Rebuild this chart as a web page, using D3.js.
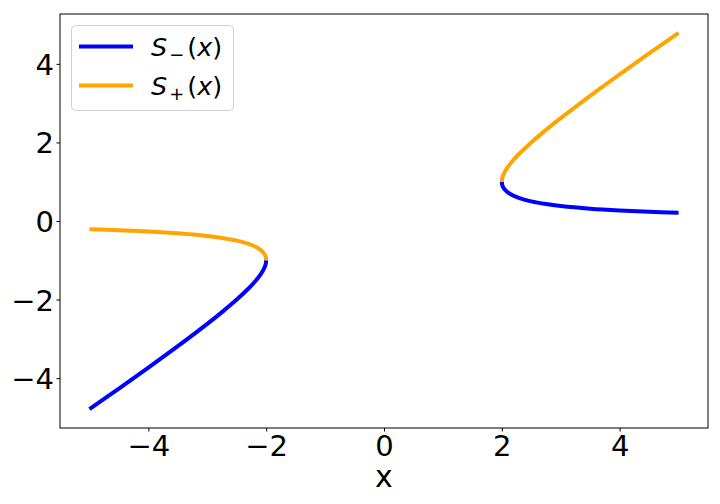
<!DOCTYPE html>
<html><head><meta charset="utf-8">
<script src="https://cdn.jsdelivr.net/npm/d3@7"></script>
<style>body{margin:0;background:#fff}text{font-family:"DejaVu Sans",sans-serif}</style>
</head><body><svg id="c" width="720" height="504"></svg>
<script>
// x samples (negative branch and positive branch), NaN marks the gap |x|<2
const xValues = [-5, -4.5, -4, -3.5, -3, -2.75, -2.5, -2.3, -2.2, -2.1, -2.05, -2.02, -2.01, -2.005, -2,
  NaN,
  2, 2.005, 2.01, 2.02, 2.05, 2.1, 2.2, 2.3, 2.5, 2.75, 3, 3.5, 4, 4.5, 5];
const sMinus = [-4.7913, -4.2656, -3.7321, -3.1861, -2.6180, -2.3187, -2.0, -1.7179, -1.5583, -1.3702, -1.25, -1.1518, -1.1051, -1.0708, -1,
  NaN,
  1, 0.9292, 0.9049, 0.8682, 0.8, 0.7298, 0.6417, 0.5821, 0.5, 0.4313, 0.3820, 0.3139, 0.2680, 0.2344, 0.2087];
const sPlus = [-0.2087, -0.2344, -0.2680, -0.3139, -0.3820, -0.4313, -0.5, -0.5821, -0.6417, -0.7298, -0.8, -0.8682, -0.9049, -0.9292, -1,
  NaN,
  1, 1.0708, 1.1051, 1.1518, 1.25, 1.3702, 1.5583, 1.7179, 2.0, 2.3187, 2.6180, 3.1861, 3.7321, 4.2656, 4.7913];
const xTicks = [-4, -2, 0, 2, 4];
const yTicks = [-4, -2, 0, 2, 4];
const seriesNames = ["S−", "S+"];
const seriesColors = ["#0000ff", "#ffa500"];

const svg = d3.select("#c");
const L = 60, R = 708, T = 14, B = 428;
const FS = 29;
const x = d3.scaleLinear().domain([-5.5, 5.5]).range([L, R]);
const y = d3.scaleLinear().domain([-5.2696, 5.2696]).range([B, T]);

svg.append("clipPath").attr("id","cp").append("rect")
  .attr("x",L).attr("y",T).attr("width",R-L).attr("height",B-T);

const series = [sMinus, sPlus];
const line = d3.line()
  .defined(d => !isNaN(d[0]) && !isNaN(d[1]))
  .x(d => x(d[0])).y(d => y(d[1]))
  .curve(d3.curveCatmullRom.alpha(0.5));
series.forEach((s, i) => {
  svg.append("path")
    .attr("d", line(xValues.map((v, j) => [v, s[j]])))
    .attr("fill","none").attr("stroke", seriesColors[i])
    .attr("stroke-width", 4).attr("stroke-linecap","butt")
    .attr("clip-path","url(#cp)");
});

const fmt = d => d < 0 ? "\u2212" + Math.abs(d) : d;
const xa = svg.append("g").attr("transform",`translate(0,${B})`)
  .call(d3.axisBottom(x).tickValues(xTicks).tickSize(3.5).tickPadding(3.5).tickFormat(fmt));
const ya = svg.append("g").attr("transform",`translate(${L},0)`)
  .call(d3.axisLeft(y).tickValues(yTicks).tickSize(3.5).tickPadding(2.5).tickFormat(fmt));
[xa, ya].forEach(g => {
  g.select(".domain").remove();
  g.selectAll("line").attr("stroke","#000").attr("stroke-width",1);
  g.selectAll("text").attr("font-size",FS).attr("fill","#000").attr("font-family","DejaVu Sans");
});
ya.selectAll("text").attr("dy","0.36em");
svg.append("rect").attr("x",L).attr("y",T).attr("width",R-L).attr("height",B-T)
  .attr("fill","none").attr("stroke","#000").attr("stroke-width",1);

svg.append("text").attr("x",(L+R)/2).attr("y",487).attr("text-anchor","middle")
  .attr("font-size",30).text("x");

// legend
const lg = svg.append("g");
lg.append("rect").attr("x",71.5).attr("y",25.5).attr("width",162).attr("height",85)
  .attr("rx",4).attr("fill","#fff").attr("fill-opacity",0.8).attr("stroke","#d0d0d0").attr("stroke-width",1);
const rowsY = [46.5, 85.5];
seriesNames.forEach((n, i) => {
  lg.append("line").attr("x1",79).attr("x2",133).attr("y1",rowsY[i]).attr("y2",rowsY[i])
    .attr("stroke",seriesColors[i]).attr("stroke-width",4);
  const t = lg.append("text").attr("x",151).attr("y",rowsY[i]+9.5).attr("font-size",25.5);
  t.append("tspan").attr("font-style","italic").text("S");
  t.append("tspan").attr("font-size",18).attr("dy",5).attr("dx",2).text(i === 0 ? "\u2212" : "+");
  t.append("tspan").attr("dy",-5).attr("dx",3).text("(");
  t.append("tspan").attr("font-style","italic").text("x");
  t.append("tspan").text(")");
});
</script></body></html>
